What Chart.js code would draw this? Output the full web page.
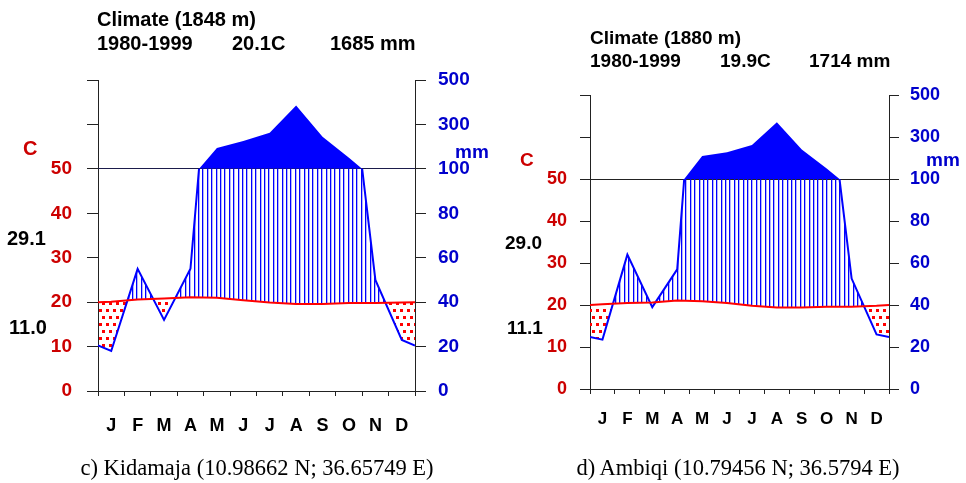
<!DOCTYPE html>
<html>
<head>
<meta charset="utf-8">
<script src="https://cdn.jsdelivr.net/npm/chart.js@4/dist/chart.umd.min.js"></script>
<style>
  html, body { margin: 0; padding: 0; background: #fff; }
  body { width: 966px; height: 483px; position: relative; overflow: hidden;
         font-family: "Liberation Sans", Arial, sans-serif; }
  canvas { position: absolute; top: 0; }
  .t { position: absolute; white-space: nowrap; font-weight: bold; line-height: 20px; color: #000; }
  .h1 { font-size: 20px; }
  .h2 { font-size: 19px; }
  .red { color: #cc0000; }
  .blue { color: #0000cc; }
  .cap { position: absolute; white-space: nowrap; line-height: 22px; font-size: 22.5px;
         font-family: "Liberation Serif", "Times New Roman", serif; transform: translateX(-50%); }
</style>
</head>
<body>
<canvas id="kidamaja" width="483" height="483" style="left:0"></canvas>
<canvas id="ambiqi" width="483" height="483" style="left:483px"></canvas>

<!-- left panel text -->
<div class="t h1" style="left:97px;top:9px">Climate (1848 m)</div>
<div class="t h1" style="left:97px;top:33px">1980-1999</div>
<div class="t h1" style="left:232px;top:33px">20.1C</div>
<div class="t h1" style="left:330px;top:33px">1685 mm</div>
<div class="t h1 red" style="left:23px;top:138px">C</div>
<div class="t h1" style="left:7px;top:228px">29.1</div>
<div class="t h1" style="left:9px;top:317px">11.0</div>
<div class="t h2 blue" style="left:455px;top:142px">mm</div>

<!-- right panel text -->
<div class="t h2" style="left:590px;top:28px">Climate (1880 m)</div>
<div class="t h2" style="left:590px;top:51px">1980-1999</div>
<div class="t h2" style="left:720px;top:51px">19.9C</div>
<div class="t h2" style="left:809px;top:51px">1714 mm</div>
<div class="t h2 red" style="left:520px;top:150px">C</div>
<div class="t h2" style="left:505px;top:233px">29.0</div>
<div class="t h2" style="left:507px;top:318px">11.1</div>
<div class="t h2 blue" style="left:926px;top:150px">mm</div>

<div class="cap" style="left:257px;top:457px">c) Kidamaja (10.98662 N; 36.65749 E)</div>
<div class="cap" style="left:738px;top:457px">d) Ambiqi (10.79456 N; 36.5794 E)</div>

<script>
// ── Data ─────────────────────────────────────────────────────
const MONTHS = ['J', 'F', 'M', 'A', 'M', 'J', 'J', 'A', 'S', 'O', 'N', 'D'];

// Kidamaja, 1848 m  (°C, mm)
const kidTemp     = [20.1, 20.6, 20.8, 21.1, 21.0, 20.4, 19.9, 19.6, 19.6, 19.8, 19.8, 19.9];
const kidPrec     = [18, 55, 32, 55, 194, 225, 262, 385, 245, 150, 50, 23];
const kidTempEdge = 20.0;   // value drawn on the Jan/Dec borders
const kidPrecEdge = 20.5;

// Ambiqi, 1880 m
const ambTemp     = [20.2, 20.5, 20.6, 21.1, 20.9, 20.5, 19.8, 19.4, 19.4, 19.6, 19.6, 19.8];
const ambPrec     = [23.5, 64, 39, 57, 210, 227, 262, 370, 240, 150, 52.6, 26];
const ambTempEdge = 20.0;
const ambPrecEdge = 24.8;

// y tick values: °C on the left, mm on the right (above 100 mm the scale is 1:10)
const T_TICKS = [0, 10, 20, 30, 40, 50, 60, 70];

const RED      = '#ff0000';
const BLUE     = '#0000ff';
const RED_TXT  = '#cc0000';
const BLUE_TXT = '#0000cc';
const AXIS     = '#222';
const FONT     = 'Liberation Sans, Arial, sans-serif';

// ── Clip a dataset (line + fill) below a value of its own axis ──
const clipBelow = {
  id: 'clipBelow',
  beforeDatasetDraw(chart, args) {
    const ds = chart.data.datasets[args.index];
    if (ds.clipAt === undefined) return;
    const a = chart.chartArea;
    const y = chart.scales[ds.yAxisID].getPixelForValue(ds.clipAt);
    const ctx = chart.ctx;
    ctx.save();
    ctx.beginPath();
    ctx.rect(a.left - 2, y, a.right - a.left + 4, a.bottom - y + 2);
    ctx.clip();
  },
  afterDatasetDraw(chart, args) {
    if (chart.data.datasets[args.index].clipAt !== undefined) chart.ctx.restore();
  }
};
// filler must run after the clip, so register it again behind our plugin
const fillerPlugin = Chart.registry.getPlugin('filler');
Chart.unregister(fillerPlugin);
Chart.register(clipBelow, fillerPlugin);

function toPoints(values, edge) {
  return [{ x: 0, y: edge }]
    .concat(values.map((v, i) => ({ x: i + 0.5, y: v })))
    .concat([{ x: 12, y: edge }]);
}

function hatchPattern(ctx) {
  const tile = document.createElement('canvas');
  tile.width = 22; tile.height = 4;
  const t = tile.getContext('2d');
  t.fillStyle = BLUE;
  for (let i = 0; i < 5; i++) t.fillRect(Math.round(i * 4.4), 0, 1.3, 4);
  return ctx.createPattern(tile, 'repeat');
}

function dotPattern(ctx) {
  const tile = document.createElement('canvas');
  tile.width = 14; tile.height = 14;
  const t = tile.getContext('2d');
  t.fillStyle = RED;
  [[1, 1], [8, 1], [4, 8], [11, 8]].forEach(([x, y]) => t.fillRect(x, y, 3, 3));
  return ctx.createPattern(tile, 'repeat');
}

// ── Walter-Lieth style diagram ───────────────────────────────
function climateChart(id, temp, prec, tEdge, pEdge, box) {
  const ctx = document.getElementById(id).getContext('2d');
  const tickFont  = { family: FONT, size: box.tickSize, weight: 'bold' };
  const monthFont = { family: FONT, size: box.monthSize, weight: 'bold' };

  return new Chart(ctx, {
    type: 'line',
    data: {
      datasets: [
        { label: 'Temperature', data: toPoints(temp, tEdge), yAxisID: 'yT',
          borderColor: RED, borderWidth: 2, fill: false },
        { label: 'Precipitation', data: toPoints(prec, pEdge), yAxisID: 'yP',
          borderColor: BLUE, borderWidth: 2, clipAt: 100,
          fill: { target: 0, above: hatchPattern(ctx), below: dotPattern(ctx) } },
        { label: 'Precipitation > 100 mm', data: toPoints(prec, pEdge), yAxisID: 'yH',
          borderWidth: 0, borderColor: 'rgba(0,0,0,0)',
          fill: { value: 100, above: BLUE, below: 'rgba(0,0,0,0)' } }
      ]
    },
    options: {
      responsive: false,
      animation: false,
      layout: { padding: { top: box.top, bottom: box.bottom, left: 0, right: 0 } },
      elements: { point: { radius: 0, hoverRadius: 0 }, line: { tension: 0 } },
      plugins: { legend: { display: false }, tooltip: { enabled: false } },
      scales: {
        x: {
          type: 'linear', min: 0, max: 12, position: 'bottom',
          ticks: { display: false, stepSize: 1 },
          grid: { drawOnChartArea: false, tickLength: 5, tickColor: AXIS },
          border: { color: AXIS },
          afterFit: s => { s.height = 6; }
        },
        xm: {
          type: 'category', labels: MONTHS, offset: true, position: 'bottom', weight: 1,
          grid: { display: false }, border: { display: false },
          ticks: { color: '#000', font: monthFont, padding: box.monthPad, autoSkip: false, maxRotation: 0 },
          afterFit: s => { s.height = 40; }
        },
        yT: {
          position: 'left', min: 0, max: 70,
          afterBuildTicks: s => { s.ticks = T_TICKS.map(v => ({ value: v })); },
          ticks: { color: RED_TXT, font: tickFont, padding: box.leftPad,
                   callback: v => (v <= 50 ? v : '') },
          grid: { color: c => (c.tick && c.tick.value === 50 ? AXIS : 'rgba(0,0,0,0)'),
                  tickColor: AXIS, tickLength: box.tickLen },
          border: { color: AXIS },
          afterFit: s => { s.width = box.left; }
        },
        yP: {
          position: 'right', min: 0, max: 140,
          afterBuildTicks: s => { s.ticks = T_TICKS.map(v => ({ value: v * 2 })); },
          ticks: { color: BLUE_TXT, font: tickFont, padding: box.rightPad,
                   callback: v => (v <= 100 ? v : 100 + (v - 100) * 10) },
          grid: { drawOnChartArea: false, tickColor: AXIS, tickLength: box.tickLen },
          border: { color: AXIS },
          afterFit: s => { s.width = box.right; }
        },
        // compressed part of the precipitation scale (100–500 mm)
        yH: { display: false, min: -900, max: 500 }
      }
    }
  });
}

climateChart('kidamaja', kidTemp, kidPrec, kidTempEdge, kidPrecEdge,
  { left: 98, right: 68, top: 80, bottom: 46, tickLen: 11, leftPad: 15, rightPad: 12,
    tickSize: 19, monthSize: 18, monthPad: 10 });

climateChart('ambiqi', ambTemp, ambPrec, ambTempEdge, ambPrecEdge,
  { left: 107, right: 77, top: 95, bottom: 48, tickLen: 10, leftPad: 13, rightPad: 11,
    tickSize: 18, monthSize: 17, monthPad: 6 });
</script>
</body>
</html>
